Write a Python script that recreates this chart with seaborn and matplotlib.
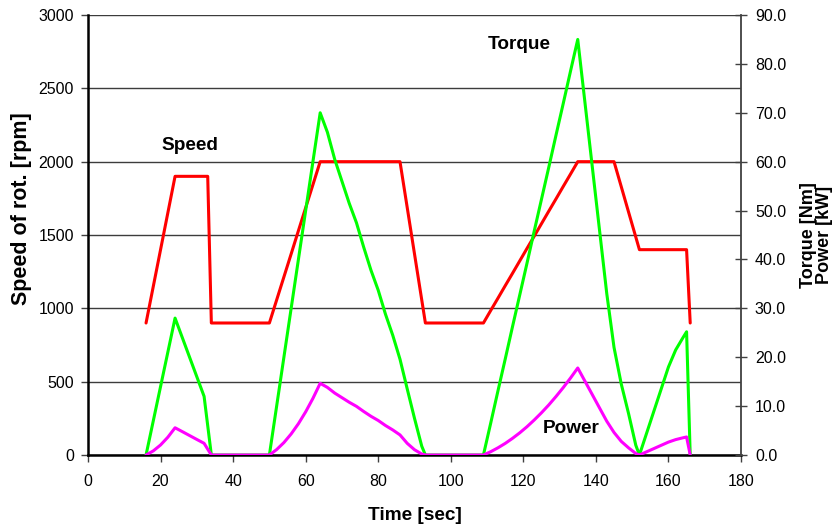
import matplotlib
matplotlib.use("Agg")
import matplotlib.pyplot as plt
import matplotlib.ticker as mticker
import pandas as pd
import seaborn as sns

# Drive cycle samples
time_s = [16, 18, 20, 22, 24, 26, 28, 30, 32, 33, 34,
          50,
          52, 54, 56, 58, 60, 62, 64, 66, 68, 70, 72, 74, 76, 78, 80, 82, 84, 86,
          88, 90, 92, 93,
          109,
          111, 113, 115, 117, 119, 121, 123, 125, 127, 129, 131, 133, 135,
          137, 139, 141, 143, 145, 147, 149, 151, 152,
          154, 156, 158, 160, 162, 164, 165, 166]

speed_rpm = [900, 1150, 1400, 1650, 1900, 1900, 1900, 1900, 1900, 1900, 900,
             900,
             1057, 1214, 1371, 1529, 1686, 1843, 2000, 2000, 2000, 2000, 2000, 2000,
             2000, 2000, 2000, 2000, 2000, 2000,
             1686, 1371, 1057, 900,
             900,
             985, 1069, 1154, 1238, 1323, 1408, 1492, 1577, 1662, 1746, 1831, 1915, 2000,
             2000, 2000, 2000, 2000, 2000, 1829, 1657, 1486, 1400,
             1400, 1400, 1400, 1400, 1400, 1400, 1400, 900]

torque_nm = [0, 7, 14, 21, 28, 24, 20, 16, 12, 6, 0,
             0,
             10, 20, 30, 40, 50, 60, 70, 66, 60.5, 56, 51.5, 47.5, 42.5, 37.8, 33.7,
             28.8, 24.5, 19.6,
             13.5, 7.5, 1.8, 0,
             0,
             6.5, 13.1, 19.6, 26.2, 32.7, 39.2, 45.8, 52.3, 58.8, 65.4, 71.9, 78.5, 85,
             72, 59, 46, 33, 22, 14.5, 8.5, 2, 0,
             4.5, 9, 13.5, 18, 21.5, 24, 25.2, 0]

power_kw = [0, 0.84, 2.05, 3.63, 5.57, 4.78, 3.98, 3.18, 2.39, 1.19, 0,
            0,
            1.11, 2.54, 4.31, 6.40, 8.83, 11.58, 14.66, 13.82, 12.67, 11.73, 10.79,
            9.95, 8.90, 7.92, 7.06, 6.03, 5.13, 4.11,
            2.38, 1.08, 0.20, 0,
            0,
            0.67, 1.47, 2.37, 3.40, 4.53, 5.78, 7.16, 8.64, 10.23, 11.96, 13.79, 15.74, 17.80,
            15.08, 12.36, 9.63, 6.91, 4.61, 2.78, 1.47, 0.31, 0,
            0.66, 1.32, 1.98, 2.64, 3.15, 3.52, 3.69, 0]

x_ticks = [0, 20, 40, 60, 80, 100, 120, 140, 160, 180]
speed_ticks = [0, 500, 1000, 1500, 2000, 2500, 3000]
right_ticks = [0, 10, 20, 30, 40, 50, 60, 70, 80, 90]

df = pd.DataFrame({"time": time_s, "speed": speed_rpm,
                   "torque": torque_nm, "power": power_kw})

sns.set_theme(style="white")
plt.rcParams["font.family"] = ["Liberation Sans", "DejaVu Sans"]
plt.rcParams["text.color"] = "black"
plt.rcParams["axes.labelcolor"] = "black"
plt.rcParams["xtick.color"] = "black"
plt.rcParams["ytick.color"] = "black"

fig = plt.figure(figsize=(8.38, 5.25), dpi=100)
ax = fig.add_axes([88 / 838, 1 - 455 / 525, (741 - 88) / 838, 440 / 525])
ax2 = ax.twinx()

lw = 2.2
sns.lineplot(data=df, x="time", y="speed", ax=ax, color="#FF0000", lw=lw,
             sort=False, estimator=None)
sns.lineplot(data=df, x="time", y="torque", ax=ax2, color="#00FF00", lw=lw,
             sort=False, estimator=None)
sns.lineplot(data=df, x="time", y="power", ax=ax2, color="#FF00FF", lw=lw,
             sort=False, estimator=None)

ax.set_xlim(0, 180)
ax.set_ylim(0, 3000)
ax2.set_ylim(0, 90)
ax.set_xticks(x_ticks)
ax.set_yticks(speed_ticks)
ax2.set_yticks(right_ticks)
ax2.yaxis.set_major_formatter(mticker.FormatStrFormatter("%.1f"))

ax.yaxis.grid(True, color="#3c3c3c", lw=1.0)
ax.xaxis.grid(False)
ax2.grid(False)
ax.set_axisbelow(True)

for a in (ax, ax2):
    a.spines["top"].set_visible(False)
ax.spines["left"].set_color("black")
ax.spines["left"].set_linewidth(1.8)
ax.spines["bottom"].set_color("black")
ax.spines["bottom"].set_linewidth(1.8)
ax.spines["right"].set_visible(False)
ax2.spines["left"].set_visible(False)
ax2.spines["bottom"].set_visible(False)
ax2.spines["right"].set_color("#404040")
ax2.spines["right"].set_linewidth(1.3)

ax.tick_params(axis="x", direction="out", length=5, width=1, color="#404040",
               labelsize=11.5, labelcolor="black", bottom=True, pad=9)
ax.tick_params(axis="y", direction="out", length=5, width=1, color="#404040",
               labelsize=11.5, labelcolor="black", left=True, pad=5)
ax2.tick_params(axis="y", direction="inout", length=8, width=1, color="#404040",
                labelsize=11.5, labelcolor="black", right=True, pad=6)

ax.set_xlabel("Time [sec]", fontsize=13.7, fontweight="bold", labelpad=13)
ax.set_ylabel("Speed of rot. [rpm]", fontsize=15.5, fontweight="bold")
ax.yaxis.set_label_coords(-0.086, 0.56)
ax2.set_ylabel("Torque [Nm]\nPower [kW]", fontsize=13, fontweight="bold",
               labelpad=10, linespacing=0.95)

ax.text(28.1, 2113, "Speed", fontsize=13.7, fontweight="bold", ha="center", va="center")
ax.text(118.8, 2802, "Torque", fontsize=13.7, fontweight="bold", ha="center", va="center")
ax.text(133.1, 184, "Power", fontsize=13.7, fontweight="bold", ha="center", va="center")

fig.savefig("out.png", dpi=100, facecolor="white")
